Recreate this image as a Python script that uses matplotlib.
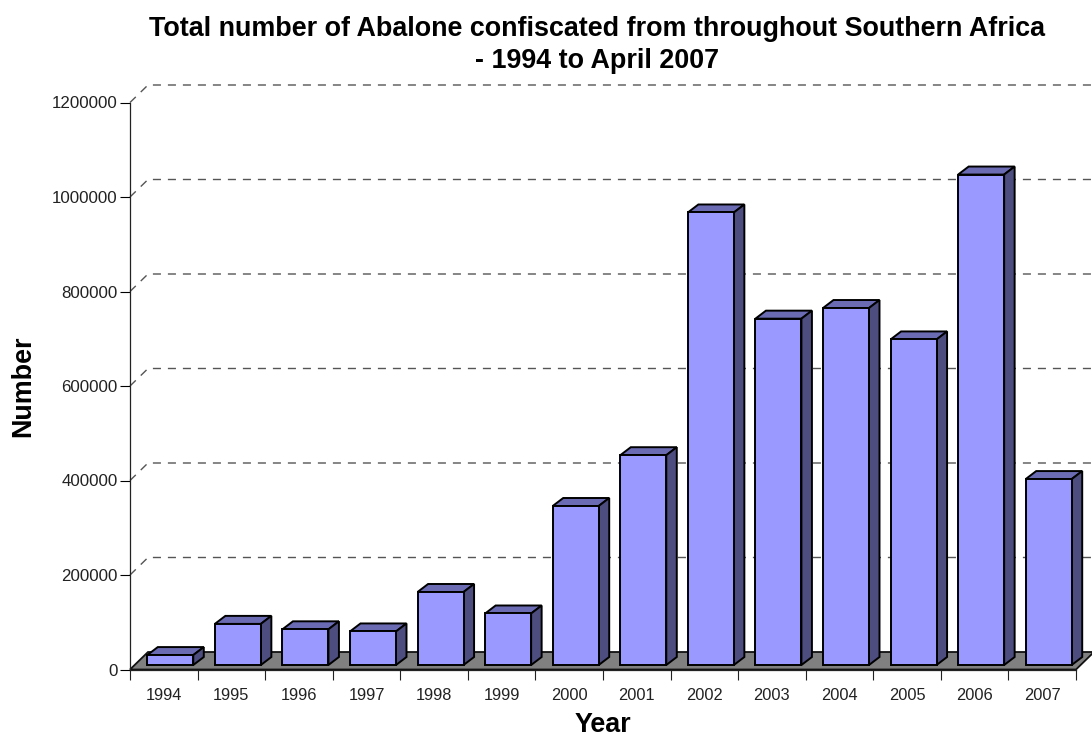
import matplotlib
matplotlib.use("Agg")
import matplotlib.pyplot as plt
from matplotlib.patches import Polygon
import numpy as np

plt.rcParams['font.family'] = ['Liberation Sans', 'DejaVu Sans']

years = ['1994', '1995', '1996', '1997', '1998', '1999', '2000',
         '2001', '2002', '2003', '2004', '2005', '2006', '2007']
number = [21000, 87000, 75500, 71000, 154500, 109000, 336500,
          444000, 957700, 733000, 755500, 689000, 1038000, 393500]
yticks = [0, 200000, 400000, 600000, 800000, 1000000, 1200000]

W, H = 1092, 736
left, right, y0, ytop = 130, 1076, 669.5, 102.5

fig = plt.figure(figsize=(W / 100, H / 100), dpi=100)
ax = fig.add_axes([left / W, (H - y0) / H, (right - left) / W, (y0 - ytop) / H])
ax.set_xlim(0, len(years))
ax.set_ylim(0, 1200000)

# pixels -> data units
px_x = len(years) / (right - left)
px_y = 1200000 / (y0 - ytop)

# walls depth of the fake 3d box
wall_dx, wall_dy = 18 * px_x, 17.5 * px_y
# the 3d bit on each bar
bar_dx, bar_dy = 10.5 * px_x, 8 * px_y
bar_w = 46 * px_x
shift_x, shift_y = 6.5 * px_x, 4.5 * px_y

# dashed gridlines, going back along the side wall then across
for t in yticks[1:]:
    ax.plot([0, wall_dx, len(years) + wall_dx], [t, t + wall_dy, t + wall_dy],
            color='#555555', lw=1.0, dashes=(5.8, 5.0), clip_on=False, zorder=1)

# floor
ax.add_patch(Polygon([(0, 0), (len(years), 0), (len(years) + wall_dx, wall_dy), (wall_dx, wall_dy)],
                     closed=True, fc='#808080', ec='#111111', lw=1.3, clip_on=False, zorder=2))

x = np.arange(len(years)) + 0.5 + shift_x
ax.bar(x, number, width=bar_w, bottom=shift_y, color='#9999FF', edgecolor='black',
       linewidth=1.4, clip_on=False, zorder=4)

for xi, v in zip(x, number):
    x1, x2 = xi - bar_w / 2, xi + bar_w / 2
    top = v + shift_y
    ax.add_patch(Polygon([(x1, top), (x2, top), (x2 + bar_dx, top + bar_dy), (x1 + bar_dx, top + bar_dy)],
                         closed=True, fc='#6B6BB3', ec='black', lw=1.4, clip_on=False, zorder=3))
    ax.add_patch(Polygon([(x2, shift_y), (x2 + bar_dx, shift_y + bar_dy), (x2 + bar_dx, top + bar_dy), (x2, top)],
                         closed=True, fc='#4D4D80', ec='black', lw=1.4, clip_on=False, zorder=3))

# axes
for s in ['top', 'right']:
    ax.spines[s].set_visible(False)
for s in ['left', 'bottom']:
    ax.spines[s].set_linewidth(0.9)
    ax.spines[s].set_color('#222222')
    ax.spines[s].set_zorder(5)
ax.set_yticks(yticks)
ax.set_yticklabels([str(t) for t in yticks], fontsize=12.2, color='#222222')
ax.tick_params(axis='y', length=7.5, width=0.8, pad=1.5)
ax.set_xticks(np.arange(len(years) + 1))
ax.set_xticklabels([])
ax.tick_params(axis='x', length=7.5, width=0.8, color='#222222')
ax.set_xticks(np.arange(len(years)) + 0.5, minor=True)
ax.set_xticklabels(years, minor=True, fontsize=11.8, color='#222222')
ax.tick_params(axis='x', which='minor', length=0, pad=13)

fig.text(597 / W, 1 - 45 / H, 'Total number of Abalone confiscated from throughout Southern Africa\n- 1994 to April 2007',
         ha='center', va='center', fontsize=19.4, fontweight='bold', linespacing=1.27)
fig.text(603 / W, 1 - 725 / H, 'Year', ha='center', va='center', fontsize=19.4, fontweight='bold')
fig.text(23 / W, 1 - 386 / H, 'Number', ha='center', va='center', rotation=90, fontsize=19.4, fontweight='bold')

fig.savefig('out.png', dpi=100)
